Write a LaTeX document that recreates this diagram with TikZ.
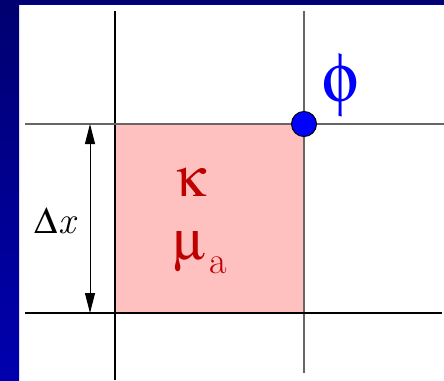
\documentclass[tikz,border=0pt]{standalone}
\usepackage{fontspec}
\usepackage[Symbol]{upgreek}
\usetikzlibrary{arrows.meta}

\definecolor{slidenavy}{RGB}{0,0,112}
\definecolor{slideblue}{RGB}{0,0,175}
\definecolor{cellpink}{RGB}{255,192,192}
\definecolor{paramred}{RGB}{190,0,0}

\begin{document}
\begin{tikzpicture}[
    x=1pt, y=-1pt,
    gridline/.style={line width=1.2pt, black},
    softline/.style={line width=1.2pt, black!60},
    txt/.style={inner sep=0pt},
    dim/.style={{Triangle[length=20pt,width=10pt]}-{Triangle[length=20pt,width=10pt]}, line width=1pt},
    gridpoint/.style={circle, draw, fill=blue, line width=1pt, minimum size=25pt, inner sep=0pt},
]
    \useasboundingbox (0,0) rectangle (444,380);

    % Grid positions (pixels of the slide).
    \def\xLeft{115}
    \def\xRight{304}
    \def\yTop{124}
    \def\yBot{313}

    % ---------- slide frame ----------
    \fill[white] (0,0) rectangle (444,380);
    \shade[top color=slidenavy, bottom color=slideblue] (0,0) rectangle (19,380);
    \fill[slidenavy] (0,0) rectangle (444,4);
    \draw[blue!40!slidenavy, line width=0.8pt] (19,4.4) -- (444,4.4);

    % ---------- cell ----------
    \fill[cellpink] (\xLeft,\yTop) rectangle (\xRight,\yBot);

    % ---------- grid lines ----------
    \coordinate (lt) at (\xLeft,11);
    \coordinate (lb) at (\xLeft,380);
    \coordinate (rt) at (\xRight,11);
    \coordinate (rb) at (\xRight,373);
    \coordinate (tl) at (25,\yTop);
    \coordinate (tr) at (444,\yTop);
    \coordinate (bl) at (25,\yBot);
    \coordinate (br) at (442,\yBot);

    \draw[gridline] (lt) -- (lb);
    \draw[softline] (rt) -- (rb);
    \draw[softline] (tl) -- (tr);
    \draw[gridline] (bl) -- (br);

    % ---------- grid point and its value ----------
    \node[gridpoint] (corner) at (\xRight,\yTop) {};
    \node[txt, text=blue, font=\fontsize{70}{80}\selectfont] (phi) at (341,85) {$\upphi$};

    % ---------- cell size ----------
    \coordinate (dxtop) at (90,\yTop);
    \coordinate (dxbot) at (90,\yBot);
    \draw[dim] (dxtop) -- (dxbot);
    \node[txt, font=\fontsize{38}{44}\selectfont] (dx) at (56,221) {{\usefont{U}{psy}{m}{n}D}\textit{x}};

    % ---------- cell parameters ----------
    \node[txt, text=paramred, font=\fontsize{56}{66}\selectfont] (kappa) at (191,182) {$\upkappa$};
    \node[txt, text=paramred, font=\fontsize{56}{66}\selectfont] (mu) at (190,252) {$\upmu$};
    \node[txt, text=paramred, font=\fontsize{38}{46}\selectfont] (mua) at (218,265) {a};

\end{tikzpicture}
\end{document}
